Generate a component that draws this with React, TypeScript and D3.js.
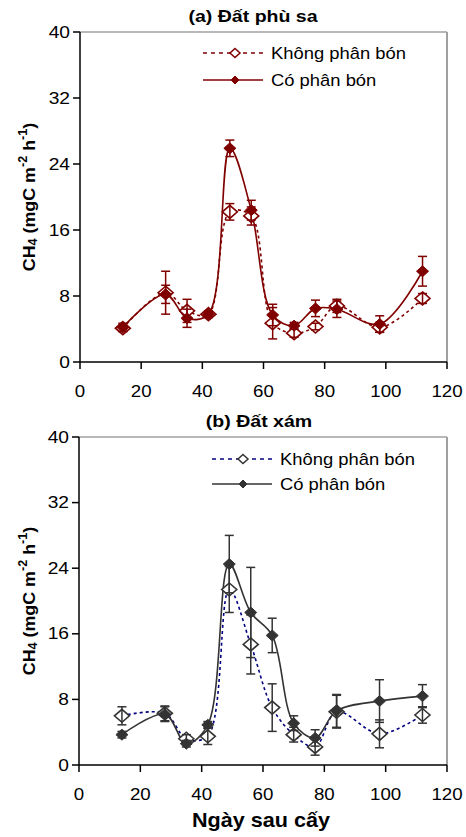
import { useMemo } from 'react';
import * as d3 from 'd3';

const days = [14, 28, 35, 42, 49, 56, 63, 70, 77, 84, 98, 112];

// (a) Đất phù sa
const aKhong = [4.1, 8.4, 6.2, 5.8, 18.2, 17.7, 4.7, 3.5, 4.3, 6.8, 4.2, 7.7];
const aKhongErr = [0.4, 2.6, 1.4, 0.3, 1.0, 1.1, 1.9, 0.5, 0.4, 0.8, 0.6, 0.6];
const aCo = [4.2, 8.2, 5.3, 5.8, 25.9, 18.4, 5.7, 4.4, 6.5, 6.4, 4.6, 11.0];
const aCoErr = [0.5, 1.1, 1.1, 0.4, 1.0, 1.2, 1.3, 0.4, 1.0, 1.0, 1.0, 1.8];

// (b) Đất xám
const bKhong = [6.0, 6.3, 3.2, 3.5, 21.4, 14.7, 7.0, 3.7, 2.2, 6.5, 3.8, 6.1];
const bKhongErr = [1.1, 0.9, 0.5, 1.0, 2.8, 3.6, 2.9, 0.9, 1.0, 2.0, 1.7, 1.0];
const bCo = [3.7, 6.2, 2.6, 4.9, 24.5, 18.6, 15.8, 5.1, 3.3, 6.6, 7.8, 8.4];
const bCoErr = [0.4, 0.9, 0.4, 0.4, 3.5, 5.5, 2.1, 0.9, 1.0, 2.0, 2.6, 1.4];

const xTicks = [0, 20, 40, 60, 80, 100, 120];
const yTicks = [0, 8, 16, 24, 32, 40];
const legendLabels = ['Không phân bón', 'Có phân bón'];

const FONT = '"Liberation Sans", Arial, sans-serif';

function diamond(cx, cy, w, h) {
  return `M${cx},${cy - h / 2}L${cx + w / 2},${cy}L${cx},${cy + h / 2}L${cx - w / 2},${cy}Z`;
}

function Txt({ x, y, s = 1, size, bold = false, anchor = 'start', children }) {
  return (
    <text
      transform={`translate(${x},${y}) scale(${s},1)`}
      fontSize={size}
      fontWeight={bold ? 'bold' : 'normal'}
      textAnchor={anchor}
      fontFamily={FONT}
      fill="#000"
    >
      {children}
    </text>
  );
}

function Panel({ title, titleX, top, bottom, left, right, khong, khongErr, co, coErr, colors, legend, xTitle }) {
  const x = useMemo(() => d3.scaleLinear().domain([0, 120]).range([left, right]), [left, right]);
  const y = useMemo(() => d3.scaleLinear().domain([0, 40]).range([bottom, top]), [bottom, top]);
  const line = d3
    .line()
    .x((d) => x(d[0]))
    .y((d) => y(d[1]))
    .curve(d3.curveCatmullRom.alpha(0.5));

  const khongPts = days.map((d, i) => [d, khong[i]]);
  const coPts = days.map((d, i) => [d, co[i]]);

  const errBars = (vals, errs, color) =>
    days.map((d, i) => {
      const cx = x(d);
      const y1 = y(vals[i] + errs[i]);
      const y2 = y(vals[i] - errs[i]);
      return (
        <g key={i} stroke={color} strokeWidth={1.5}>
          <line x1={cx} x2={cx} y1={y1} y2={y2} />
          <line x1={cx - 4.5} x2={cx + 4.5} y1={y1} y2={y1} />
          <line x1={cx - 4.5} x2={cx + 4.5} y1={y2} y2={y2} />
        </g>
      );
    });

  return (
    <g>
      <Txt x={titleX} y={top - 10} s={1.15} size={17} bold anchor="middle">
        {title}
      </Txt>

      {/* plot frame */}
      <line x1={left} x2={right} y1={top} y2={top} stroke="#a0a0a0" strokeWidth={1.5} />
      <line x1={right} x2={right} y1={top} y2={bottom} stroke="#a0a0a0" strokeWidth={2} />
      <line x1={left} x2={left} y1={top} y2={bottom} stroke="#000" strokeWidth={1.5} />
      <line x1={left} x2={right} y1={bottom} y2={bottom} stroke="#000" strokeWidth={1.5} />

      {yTicks.map((t) => (
        <g key={`y${t}`}>
          <line x1={left - 7} x2={left} y1={y(t)} y2={y(t)} stroke="#000" strokeWidth={1.5} />
          <Txt x={left - 10} y={y(t) + 5.5} s={1.2} size={16} anchor="end">
            {t}
          </Txt>
        </g>
      ))}
      {xTicks.map((t) => (
        <g key={`x${t}`}>
          <line x1={x(t)} x2={x(t)} y1={bottom} y2={bottom + 7} stroke="#000" strokeWidth={1.5} />
          <Txt x={x(t)} y={bottom + 35} s={1.1} size={17} anchor="middle">
            {t}
          </Txt>
        </g>
      ))}

      <text
        transform={`translate(29,${(top + bottom) / 2}) rotate(-90) scale(1.05,1)`}
        fontSize={17}
        fontWeight="bold"
        fontFamily={FONT}
        textAnchor="middle"
        dominantBaseline="central"
      >
        CH<tspan fontSize={12} dy={4}>4</tspan>
        <tspan dy={-4}> (mgC m</tspan>
        <tspan fontSize={12} dy={-6}>-2</tspan>
        <tspan dy={6}> h</tspan>
        <tspan fontSize={12} dy={-6}>-1</tspan>
        <tspan dy={6}>)</tspan>
      </text>

      {xTitle ? (
        <Txt x={261} y={bottom + 62} s={1.08} size={20} bold anchor="middle">
          {xTitle}
        </Txt>
      ) : null}

      {/* Không phân bón */}
      <path d={line(khongPts)} fill="none" stroke={colors.khongLine} strokeWidth={1.6} strokeDasharray="3,3" />
      {/* Có phân bón */}
      <path d={line(coPts)} fill="none" stroke={colors.coLine} strokeWidth={1.6} />

      {khongPts.map((p, i) => (
        <path key={`k${i}`} d={diamond(x(p[0]), y(p[1]), 15, 13)} fill="#fff" stroke={colors.khongMark} strokeWidth={1.6} />
      ))}
      {errBars(khong, khongErr, colors.err)}
      {coPts.map((p, i) => (
        <path key={`c${i}`} d={diamond(x(p[0]), y(p[1]), 12, 11)} fill={colors.coMark} stroke={colors.coMark} strokeWidth={1} />
      ))}
      {errBars(co, coErr, colors.err)}

      {/* legend */}
      <g>
        <line x1={legend.x1} x2={legend.x2} y1={legend.y1} y2={legend.y1} stroke={colors.khongLine} strokeWidth={1.6} strokeDasharray="4,4" />
        <path d={diamond(legend.mx, legend.y1, 10, 9)} fill="#fff" stroke={colors.khongMark} strokeWidth={1.5} />
        <Txt x={legend.tx} y={legend.y1 + 6} s={1.15} size={16}>
          {legendLabels[0]}
        </Txt>
        <line x1={legend.x1} x2={legend.x2} y1={legend.y2} y2={legend.y2} stroke={colors.coLine} strokeWidth={1.6} />
        <path d={diamond(legend.mx, legend.y2, 8, 8)} fill={colors.coMark} stroke={colors.coMark} />
        <Txt x={legend.tx} y={legend.y2 + 6} s={1.15} size={16}>
          {legendLabels[1]}
        </Txt>
      </g>
    </g>
  );
}

export default function App() {
  const red = '#800000';
  return (
    <svg width={466} height={837} style={{ position: 'absolute', left: 0, top: 0, background: '#fff' }}>
      <Panel
        title="(a) Đất phù sa"
        titleX={253}
        top={32}
        bottom={362}
        left={80}
        right={447}
        khong={aKhong}
        khongErr={aKhongErr}
        co={aCo}
        coErr={aCoErr}
        colors={{ khongLine: red, khongMark: red, coLine: red, coMark: red, err: red }}
        legend={{ x1: 203, x2: 263, mx: 235, tx: 271, y1: 53, y2: 80 }}
      />
      <Panel
        title="(b) Đất xám"
        titleX={259}
        top={437}
        bottom={765}
        left={79}
        right={447}
        khong={bKhong}
        khongErr={bKhongErr}
        co={bCo}
        coErr={bCoErr}
        colors={{ khongLine: '#000080', khongMark: '#333333', coLine: '#333333', coMark: '#333333', err: '#333333' }}
        legend={{ x1: 212, x2: 272, mx: 243, tx: 280, y1: 459, y2: 484 }}
        xTitle="Ngày sau cấy"
      />
    </svg>
  );
}
